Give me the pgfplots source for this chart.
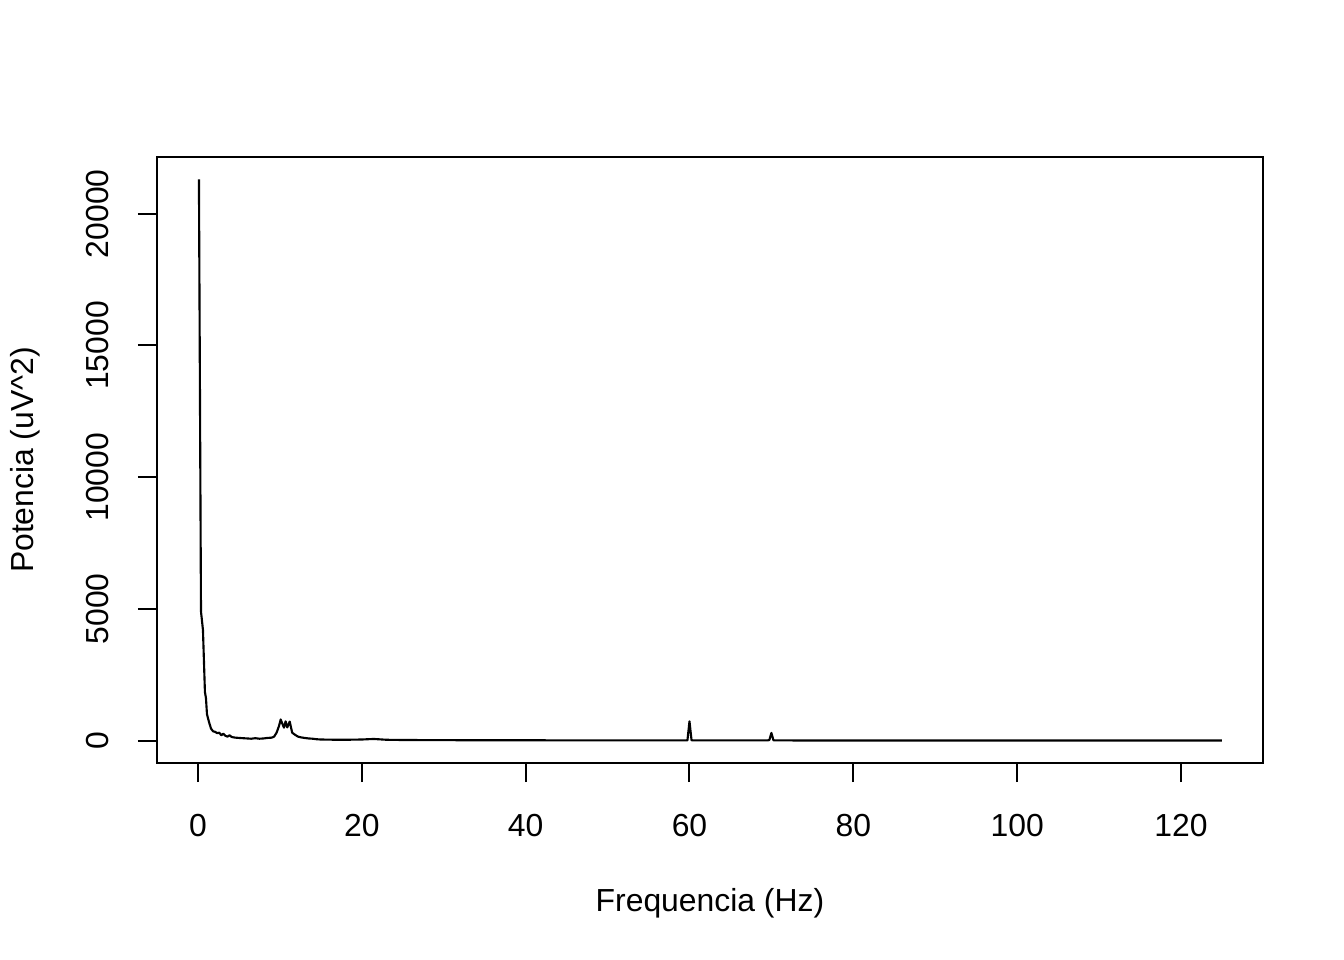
\documentclass[border=0pt]{standalone}
\usepackage{fontspec}
\setmainfont{Liberation Sans}
\usepackage{pgfplots}
\pgfplotsset{compat=1.18}
\begin{document}
\fontsize{12}{14}\selectfont
\begin{tikzpicture}
\path[use as bounding box] (0,0) rectangle (7in,5in);
\begin{axis}[
  at={(0.8177in,1.026in)}, anchor=south west,
  scale only axis, width=5.760in, height=3.156in,
  xmin=-5, xmax=130, ymin=-852, ymax=22150,
  axis line style={line width=0.75pt},
  every tick/.style={black, line width=0.75pt},
  tick align=outside, major tick length=0.1in,
  xtick pos=bottom, ytick pos=left,
  xtick={0,20,40,60,80,100,120},
  ytick={0,5000,10000,15000,20000},
  scaled ticks=false,
  /pgf/number format/assume math mode=true,
  /pgf/number format/1000 sep={},
  tick label style={font=\fontsize{12}{14}\selectfont},
  xticklabel style={anchor=north, yshift=-0.11in},
  yticklabel style={rotate=90, anchor=south, yshift=0.094in},
  xlabel={Frequencia (Hz)},
  ylabel={Potencia (uV\string^2)},
  label style={font=\fontsize{12}{14}\selectfont},
  xlabel style={at={(axis description cs:0.5,-0.231)}, anchor=center},
  ylabel style={at={(axis description cs:-0.1193,0.5)}, anchor=center, rotate=0},
]
\addplot[black, line width=0.8pt, line join=round, mark=none] coordinates {
(0.12,21300) (0.37,4900) (0.61,4200) (0.85,1850) (0.98,1600) (1.1,1000)
(1.35,700) (1.6,450) (1.85,350) (2.1,330) (2.35,280) (2.6,300) (2.85,200)
(3.1,260) (3.35,180) (3.6,150) (3.85,200) (4.1,140) (4.35,120) (4.6,110)
(5,100) (5.5,90) (6,80) (6.5,70) (7,90) (7.5,70) (8,80) (8.5,100) (9,110)
(9.3,150) (9.6,300) (9.9,560) (10.1,800) (10.35,600) (10.5,490) (10.7,730)
(10.9,500) (11.2,720) (11.5,300) (11.8,230) (12.2,150) (12.6,120) (13,100)
(13.5,80) (14,70) (14.5,50) (15,40) (16,35) (17,30) (18,30) (19,35) (20,40)
(21,55) (21.5,60) (22,50) (23,30) (24,25) (26,20) (30,15) (40,10) (50,8)
(59.5,8) (59.75,10) (60.0,730) (60.25,15) (60.5,5) (69.5,5) (69.75,20)
(70.0,290) (70.25,10) (70.5,5) (80,4) (100,3) (125,2)
};
\end{axis}
\end{tikzpicture}
\end{document}
